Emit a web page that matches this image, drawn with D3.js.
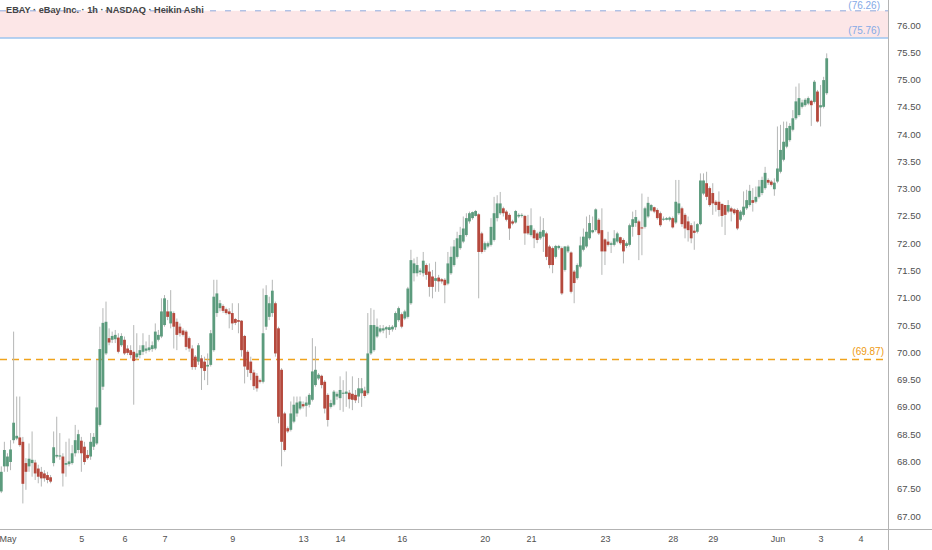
<!DOCTYPE html>
<html><head><meta charset="utf-8">
<script src="https://cdn.jsdelivr.net/npm/d3@7"></script>
<style>
html,body{margin:0;padding:0;background:#fff;overflow:hidden;}
svg{display:block;}
text{font-family:"Liberation Sans",Arial,sans-serif;}
</style></head><body>
<svg id="chart" width="932" height="550"></svg>
<script>
// ---- data (Heikin Ashi 1h candles) ----
const opens = [
67.45,67.91,67.91,67.99,68.39,68.42,68.44,68.36,67.97,67.91,
67.97,67.98,67.87,67.81,67.78,67.75,67.71,67.97,68.09,68.09,
68.09,67.94,67.95,67.97,68.15,68.21,68.38,68.27,68.12,68.09,
68.27,68.33,68.67,69.37,69.98,70.26,70.23,70.24,70.27,70.13,
70.23,70.07,70.04,70.01,69.91,69.95,70.01,70.03,70.04,70.06,
70.07,70.23,70.29,70.50,70.75,70.53,70.72,70.56,70.47,70.40,
70.38,70.26,70.07,69.92,69.83,69.89,69.83,69.74,69.77,70.04,
70.72,70.81,70.85,70.79,70.75,70.72,70.61,70.59,70.58,70.30,
70.01,69.83,69.63,69.57,69.49,69.46,70.47,70.65,70.72,70.90,
70.44,69.68,68.88,68.61,68.58,68.73,68.88,68.97,69.05,69.02,
69.04,69.13,69.40,69.52,69.57,69.46,69.22,69.00,69.04,69.19,
69.16,69.24,69.24,69.26,69.24,69.22,69.19,69.25,69.30,69.25,
69.98,70.04,70.29,70.38,70.40,70.42,70.41,70.42,70.46,70.59,
70.70,70.62,70.65,70.90,71.45,71.45,71.47,71.45,71.60,71.48,
71.39,71.31,71.37,71.34,71.33,71.26,71.45,71.60,71.75,71.91,
72.03,72.15,72.40,72.46,72.50,72.53,72.18,71.88,71.94,71.97,
72.06,72.46,72.55,72.64,72.58,72.52,72.40,72.38,72.49,72.50,
72.50,72.32,72.15,72.24,72.18,72.09,72.12,72.18,71.94,71.91,
71.75,71.91,71.91,71.51,71.85,71.83,71.48,71.36,71.57,71.88,
71.94,72.09,72.20,72.24,72.43,72.24,72.07,72.03,71.97,71.97,
72.03,72.11,72.06,71.95,71.97,72.30,72.37,72.40,72.29,72.30,
72.49,72.60,72.66,72.61,72.55,72.43,72.43,72.43,72.46,72.38,
72.55,72.64,72.52,72.40,72.33,72.23,72.21,72.35,72.91,73.10,
73.01,72.92,72.76,72.76,72.72,72.70,72.58,72.64,72.62,72.61,
72.43,72.52,72.64,72.70,72.79,72.76,72.85,72.92,73.01,73.16,
73.13,72.99,73.13,73.31,73.53,73.77,73.89,74.08,74.29,74.35,
74.50,74.53,74.56,74.61,74.59,74.78,74.49,74.50,74.75];
const closes = [
67.81,68.21,68.09,68.22,68.71,68.47,68.30,67.59,67.81,68.05,
68.03,67.78,67.72,67.69,67.69,67.66,67.63,68.26,68.12,68.11,
67.78,67.97,68.00,68.15,68.39,68.50,68.15,67.99,68.06,68.36,
68.45,68.99,70.06,70.54,70.56,70.18,70.30,70.32,70.01,70.30,
69.98,69.99,69.95,69.84,69.98,70.04,70.13,70.07,70.09,70.13,
70.38,70.32,70.75,70.99,70.65,70.75,70.47,70.32,70.35,70.32,
70.10,70.07,69.73,69.73,70.13,69.71,69.66,69.77,70.35,71.02,
71.08,70.90,70.76,70.72,70.70,70.53,70.54,70.56,70.04,69.74,
69.68,69.62,69.38,69.34,69.46,70.35,71.05,70.90,71.13,69.98,
68.82,68.36,68.21,68.55,68.88,69.04,69.08,69.10,69.01,69.08,
69.22,69.65,69.68,69.59,69.40,68.97,68.76,69.07,69.28,69.24,
69.31,69.26,69.28,69.14,69.13,69.12,69.34,69.34,69.20,69.98,
70.50,70.50,70.47,70.44,70.44,70.46,70.46,70.47,70.72,70.81,
70.47,70.75,71.17,71.69,71.63,71.60,71.50,71.68,71.42,71.20,
71.20,71.36,71.30,71.30,71.23,71.63,71.75,71.94,72.09,72.15,
72.27,72.46,72.55,72.57,72.59,71.84,71.84,72.00,72.00,72.30,
72.55,72.73,72.73,72.55,72.43,72.27,72.36,72.59,72.52,72.52,
72.18,72.18,72.33,72.09,72.06,72.21,72.24,71.75,71.60,71.60,
71.95,71.95,71.08,71.94,71.94,71.11,71.27,71.60,71.96,72.12,
72.21,72.37,72.24,72.62,72.18,71.85,71.85,71.97,72.00,72.09,
72.18,72.00,71.85,72.00,72.33,72.44,72.48,72.15,72.27,72.64,
72.74,72.70,72.58,72.46,72.33,72.45,72.46,72.47,72.29,72.76,
72.73,72.35,72.27,72.24,72.09,72.19,72.35,73.15,73.15,72.85,
72.70,72.73,72.70,72.61,72.50,72.52,72.70,72.58,72.55,72.27,
72.58,72.67,72.79,72.96,72.74,72.85,73.04,73.16,73.29,73.11,
73.07,73.11,73.37,73.71,73.86,74.11,74.15,74.29,74.60,74.66,
74.58,74.63,74.66,74.53,74.96,74.23,74.53,74.99,75.39];
const highs = [
67.91,68.36,68.15,68.39,70.38,69.19,69.19,68.45,68.06,68.33,
68.55,68.03,67.94,67.90,67.84,67.81,67.75,68.55,68.82,68.52,
68.15,68.36,68.42,68.30,68.67,68.58,68.45,68.36,68.21,68.52,
68.52,69.86,70.47,70.81,70.93,70.44,70.38,70.41,70.35,70.35,
70.29,70.13,70.13,70.50,70.35,70.13,70.35,70.20,70.32,70.20,
70.53,70.41,70.99,71.05,70.96,71.14,70.75,70.62,70.53,70.44,
70.41,70.29,70.13,69.95,70.17,69.95,69.92,69.98,70.41,71.33,
71.33,70.96,70.88,70.82,70.81,70.90,70.63,70.90,70.59,70.32,
70.04,69.92,69.68,69.62,69.52,71.17,71.23,71.02,71.33,70.93,
70.47,69.71,68.91,68.64,69.10,69.19,69.19,69.19,69.10,69.19,
69.25,70.26,70.11,69.62,69.59,69.49,69.25,69.13,69.31,69.28,
69.56,69.49,69.65,69.31,69.56,69.31,69.53,69.53,69.37,70.72,
70.81,70.78,70.62,70.50,70.50,70.48,70.50,70.50,70.75,70.84,
70.73,70.78,71.20,71.88,71.72,71.75,71.54,71.84,71.63,71.63,
71.51,71.66,71.42,71.36,71.36,71.84,71.94,72.06,72.21,72.30,
72.49,72.55,72.58,72.58,72.61,72.55,72.21,72.03,72.03,72.46,
72.85,72.88,72.94,72.67,72.61,72.55,72.43,72.61,72.55,72.55,
72.52,72.52,72.64,72.27,72.21,72.49,72.46,72.21,71.97,71.94,
71.97,71.97,71.94,71.95,71.97,71.85,71.51,71.63,72.12,72.27,
72.49,72.52,72.49,72.64,72.46,72.64,72.09,72.21,72.03,72.24,
72.21,72.12,72.09,72.03,72.36,72.58,72.61,72.43,72.91,72.67,
72.85,72.72,72.67,72.64,72.58,72.49,72.48,72.49,72.49,73.16,
73.16,72.67,72.55,72.49,72.37,72.40,72.37,73.28,73.28,73.31,
73.04,73.10,72.79,72.95,72.73,72.70,72.79,72.67,72.64,72.64,
72.61,72.95,72.98,73.07,73.01,73.04,73.16,73.22,73.40,73.19,
73.16,73.19,74.14,74.17,74.23,74.23,74.20,74.44,74.87,74.93,
74.63,74.66,74.69,74.63,74.99,74.81,74.90,75.05,75.48];
const lows = [
67.42,67.81,67.81,67.84,68.33,68.39,68.27,67.23,67.48,67.81,
67.72,67.66,67.60,67.54,67.63,67.60,67.60,67.91,68.06,68.03,
67.54,67.72,67.91,67.94,68.09,68.15,67.81,67.94,68.03,68.03,
68.21,68.30,68.64,69.31,69.95,70.13,70.17,70.17,69.98,70.10,
69.95,69.95,69.89,69.04,69.86,69.89,69.95,69.98,70.01,70.01,
70.04,70.20,70.26,70.47,70.59,70.44,70.07,70.04,70.29,70.29,
70.04,70.01,69.68,69.68,69.77,69.31,69.49,69.40,69.74,70.01,
70.65,70.75,70.72,70.69,70.44,70.41,70.50,70.35,69.92,69.43,
69.55,69.49,69.31,69.28,69.43,69.43,70.41,70.59,70.65,69.92,
68.70,67.91,68.18,68.52,68.55,68.70,68.82,68.94,68.97,68.82,
68.99,69.10,69.37,69.49,69.34,68.88,68.64,68.97,69.01,69.13,
68.94,68.91,69.00,68.97,68.94,69.07,69.07,69.00,69.16,69.22,
69.95,70.01,70.26,70.35,70.35,70.26,70.32,70.38,70.41,70.56,
70.44,70.59,70.62,70.87,71.30,71.39,71.42,71.39,71.33,71.02,
70.99,71.11,71.11,71.26,70.90,71.23,71.42,71.57,71.72,71.88,
72.00,72.12,72.36,72.43,72.49,70.99,71.81,71.84,71.91,71.94,
72.03,72.40,72.52,72.49,72.40,72.06,72.33,72.36,72.46,72.47,
71.97,72.15,72.12,71.91,72.00,72.06,71.84,71.69,71.54,71.45,
71.72,71.88,71.05,71.48,71.82,71.08,70.90,71.33,71.54,71.85,
71.91,72.06,72.18,72.21,72.15,71.42,71.60,71.94,71.82,71.94,
72.00,71.97,71.63,71.91,71.94,72.12,72.30,71.69,71.78,72.27,
72.46,72.58,72.55,72.43,72.30,72.41,72.42,72.40,72.27,72.35,
72.52,72.30,72.09,72.03,72.00,71.88,72.18,72.33,72.88,72.79,
72.67,72.52,72.58,72.49,72.30,72.15,72.55,72.40,72.52,72.24,
72.40,72.49,72.61,72.67,72.58,72.73,72.82,72.88,72.98,73.07,
73.04,72.87,73.10,73.28,73.50,73.74,73.86,74.05,74.26,74.32,
74.47,74.50,74.53,74.15,74.56,74.21,74.14,74.47,74.72];

// time axis: bar index of each labelled session start, and its label
const dateTickIndex = [2,26,40,53,75,98,110,130,157,172,196,218,231,252,266,279];
const dateTickLabels = ["May","5","6","7","9","13","14","16","20","21","23","28","29","Jun","3","4"];
// price axis labels
const priceTicks = [67.00,67.50,68.00,68.50,69.00,69.50,70.00,70.50,71.00,71.50,72.00,72.50,73.00,73.50,74.00,74.50,75.00,75.50,76.00];
// horizontal levels
const zoneLevels = [76.26, 75.76];
const supportLevel = 69.87;
const titleText = "EBAY · eBay Inc. · 1h · NASDAQ · Heikin Ashi";

// ---- layout ----
const W = 932, H = 550;
const plotRight = 888, plotBottom = 529;
const candles = opens.map((o,i)=>({i, o, c:closes[i], h:highs[i], l:lows[i]}));

const x = d3.scaleLinear().domain([-0.42, 287.9]).range([0, plotRight]);
const y = d3.scaleLinear().domain([67, 76]).range([516, 25]);

const svg = d3.select("#chart");
svg.append("rect").attr("width",W).attr("height",H).attr("fill","#ffffff");

svg.append("defs").append("clipPath").attr("id","plotClip")
  .append("rect").attr("x",0).attr("y",0).attr("width",plotRight).attr("height",plotBottom);

const plot = svg.append("g").attr("clip-path","url(#plotClip)");

// zone
plot.append("rect")
  .attr("x",0).attr("width",plotRight)
  .attr("y", y(zoneLevels[0])).attr("height", y(zoneLevels[1]) - y(zoneLevels[0]))
  .attr("fill","#fce6e7");

// title
svg.append("text").attr("x",6).attr("y",13)
  .attr("font-size",9.2).attr("font-weight",700).attr("fill","#444444")
  .text(titleText);

plot.append("line")
  .attr("x1",0).attr("x2",plotRight).attr("y1",y(zoneLevels[0])).attr("y2",y(zoneLevels[0]))
  .attr("stroke","#8ea8dc").attr("stroke-width",1).attr("stroke-dasharray","6,9");
plot.append("line")
  .attr("x1",0).attr("x2",plotRight).attr("y1",y(zoneLevels[1])).attr("y2",y(zoneLevels[1]))
  .attr("stroke","#9cc4ef").attr("stroke-width",1.5);

// support level
plot.append("line")
  .attr("x1",0).attr("x2",plotRight).attr("y1",y(supportLevel)).attr("y2",y(supportLevel))
  .attr("stroke","#f0a31c").attr("stroke-width",1.5).attr("stroke-dasharray","7,5");

// candles
const green = "#5c9b7d", red = "#b5493d";
plot.append("g").selectAll("line").data(candles).join("line")
  .attr("x1", d=>x(d.i)).attr("x2", d=>x(d.i))
  .attr("y1", d=>y(d.h)).attr("y2", d=>y(d.l))
  .attr("stroke","#b5b7b6").attr("stroke-width",1);
plot.append("g").selectAll("rect").data(candles).join("rect")
  .attr("x", d=>x(d.i)-1.4).attr("width",2.8)
  .attr("y", d=>y(Math.max(d.o,d.c)))
  .attr("height", d=>Math.max(1, Math.abs(y(d.o)-y(d.c))))
  .attr("fill", d=> d.c>=d.o ? green : red);

// level labels
const lvlLabels = [
  {v:zoneLevels[0], t:"(76.26)", col:"#84a9e6", xe:880, dy:-2},
  {v:zoneLevels[1], t:"(75.76)", col:"#84a9e6", xe:880, dy:-4},
  {v:supportLevel, t:"(69.87)", col:"#ee9a12", xe:884, dy:-4}
];
svg.append("g").selectAll("text").data(lvlLabels).join("text")
  .attr("x", d=>d.xe).attr("y", d=>y(d.v)+d.dy)
  .attr("text-anchor","end").attr("font-size",10).attr("fill", d=>d.col)
  .text(d=>d.t);

// axes
const yAxis = d3.axisRight(y).tickValues(priceTicks).tickFormat(d3.format(".2f")).tickSize(0).tickPadding(9);
const gy = svg.append("g").attr("transform",`translate(${plotRight},0)`).call(yAxis);
gy.select(".domain").remove();
gy.selectAll("text").attr("font-size",9.5).attr("fill","#505050").attr("font-family","Liberation Sans, Arial, sans-serif");

const xAxis = d3.axisBottom(x).tickValues(dateTickIndex).tickFormat((d,i)=>dateTickLabels[i]).tickSize(0).tickPadding(7);
const gx = svg.append("g").attr("transform",`translate(0,${plotBottom})`).call(xAxis);
gx.select(".domain").remove();
gx.selectAll("text").attr("font-size",9).attr("fill","#505050").attr("font-family","Liberation Sans, Arial, sans-serif");

svg.append("line").attr("x1",plotRight+0.5).attr("x2",plotRight+0.5).attr("y1",0).attr("y2",H)
  .attr("stroke","#b3b3b3").attr("stroke-width",1);
svg.append("line").attr("x1",0).attr("x2",W).attr("y1",plotBottom+0.5).attr("y2",plotBottom+0.5)
  .attr("stroke","#b3b3b3").attr("stroke-width",1);
</script>
</body></html>
